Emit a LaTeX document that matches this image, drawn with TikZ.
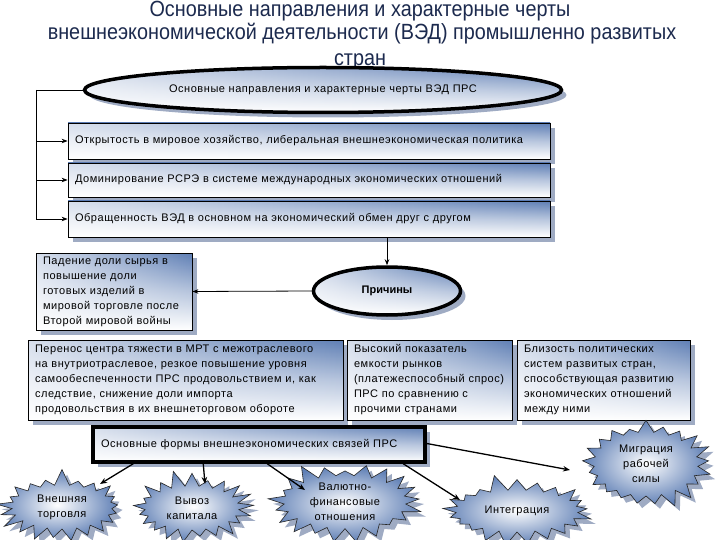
\documentclass[tikz,border=0pt]{standalone}
\usepackage{fontspec}
\setmainfont{Liberation Sans}
\newfontfamily\narrowfont[FakeStretch=0.9]{Liberation Sans}
\newfontfamily\boxfont[LetterSpace=5]{Liberation Sans}
\usetikzlibrary{shapes.geometric,shapes.symbols,shadows,arrows.meta,calc,fadings}
\definecolor{titlecol}{HTML}{1C2A4E}
\definecolor{bluefill}{HTML}{5F7FB5}
\definecolor{shadowcol}{HTML}{8797B5}
\tikzset{
  boxsh/.style={drop shadow={shadow xshift=5pt, shadow yshift=-5pt, fill=shadowcol, opacity=0.8}},
  grad/.style={top color=bluefill, bottom color=white, middle color=bluefill!45!white,
    path picture={\fill[white, path fading=east, opacity=0.75] (path picture bounding box.south west) rectangle (path picture bounding box.north east);}},
  box/.style={rectangle, draw=black, line width=0.8pt, grad, boxsh,
    font=\boxfont\fontsize{11}{15}\selectfont, align=left, inner xsep=7pt, inner ysep=2pt},
  ell/.style={ellipse, draw=black, line width=3.5pt, grad, boxsh, inner sep=0pt},
  star/.style={starburst, starburst points=21, starburst point height=17pt, random starburst=7,
    draw=black!85, line width=0.6pt,
    inner color=white, outer color=bluefill, boxsh, font=\boxfont\fontsize{11}{15}\selectfont, align=center, inner sep=0pt},
  arr/.style={-{Stealth[length=6pt,width=4.5pt]}, line width=0.8pt},
  barr/.style={-{Stealth[length=7pt,width=5.5pt]}, line width=1.3pt},
  ttl/.style={font=\narrowfont\fontsize{22}{24}\selectfont, text=titlecol}
}
\begin{document}
\begin{tikzpicture}[x=1pt,y=-1pt]
\useasboundingbox[fill=white] (0,0) rectangle (720,540);
\node[ttl] (t1) at (360,11) {Основные направления и характерные черты};
\node[ttl] (t2) at (362,34) {внешнеэкономической деятельности (ВЭД) промышленно развитых};
\node[ttl] (t3) at (360,62) {стран};

\node[ell, minimum width=477pt, minimum height=45pt, font=\boxfont\fontsize{11}{12}\selectfont] (top) at (323,90)
  {Основные направления и характерные черты ВЭД ПРС};

\node[box, minimum width=482pt, minimum height=36pt, text width=468pt] (b1) at (309,141)
  {Открытость в мировое хозяйство, либеральная внешнеэкономическая политика};
\node[box, minimum width=482pt, minimum height=34pt, text width=468pt] (b2) at (309,180)
  {Доминирование РСРЭ в системе международных экономических отношений};
\node[box, minimum width=482pt, minimum height=36pt, text width=468pt] (b3) at (309,219)
  {Обращенность ВЭД в основном на экономический обмен друг с другом};

\coordinate (j) at (36,90);
\draw[line width=0.8pt] (top.west) -- (j);
\draw[arr] (j) |- (b3.west);
\draw[arr] (j |- b1.west) -- (b1.west);
\draw[arr] (j |- b2.west) -- (b2.west);

\node[ell, minimum width=147pt, minimum height=48pt, font=\bfseries\fontsize{11}{12}\selectfont] (pr) at (387,291) {Причины};
\draw[arr] (b3.south -| pr.north) -- (pr.north);

\node[box, minimum width=156pt, minimum height=77pt, text width=142pt] (fall) at (114,291.5)
  {Падение доли сырья в\\повышение доли\\готовых изделий в\\мировой торговле после\\Второй мировой войны};
\draw[arr] (pr.west) -- (fall.east);

\node[box, minimum width=315pt, minimum height=80pt, text width=301pt] (ra) at (185.5,380)
  {Перенос центра тяжести в МРТ с межотраслевого\\на внутриотраслевое, резкое повышение уровня\\самообеспеченности ПРС продовольствием и, как\\следствие, снижение доли импорта\\продовольствия в их внешнеторговом обороте};
\node[box, minimum width=165pt, minimum height=80pt, text width=151pt] (rb) at (429.5,380)
  {Высокий показатель\\емкости рынков\\(платежеспособный спрос)\\ПРС по сравнению с\\прочими странами};
\node[box, minimum width=173pt, minimum height=80pt, text width=159pt] (rc) at (603.5,380)
  {Близость политических\\систем развитых стран,\\способствующая развитию\\экономических отношений\\между ними};

\node[box, line width=3.5pt, minimum width=332pt, minimum height=35pt, text width=316pt] (f) at (259,444.5)
  {Основные формы внешнеэкономических связей ПРС};

\node[star, minimum width=134pt, minimum height=78pt] (s1) at (62,507) {Внешняя\\торговля};
\node[star, minimum width=128pt, minimum height=78pt, random starburst=11] (s2) at (192,508) {Вывоз\\капитала};
\node[star, minimum width=156pt, minimum height=86pt, random starburst=23] (s3) at (345,502) {Валютно-\\финансовые\\отношения};
\node[star, minimum width=156pt, minimum height=76pt, random starburst=5] (s4) at (517,511) {Интеграция};
\node[star, minimum width=138pt, minimum height=98pt, random starburst=31] (s5) at (646,464) {Миграция\\рабочей\\силы};

\draw[barr] ([xshift=42pt]f.south west) -- ([shift={(38,-23)}]s1.center);
\draw[barr] ([xshift=112pt]f.south west) -- ([shift={(13,-24)}]s2.center);
\draw[barr] ([xshift=176pt]f.south west) -- ([shift={(-40,-12)}]s3.center);
\draw[barr] ([xshift=312pt]f.south west) -- ([shift={(-57,-11)}]s4.center);
\draw[barr] ([yshift=1pt]f.east) -- ([shift={(-76,6)}]s5.center);
\end{tikzpicture}
\end{document}
